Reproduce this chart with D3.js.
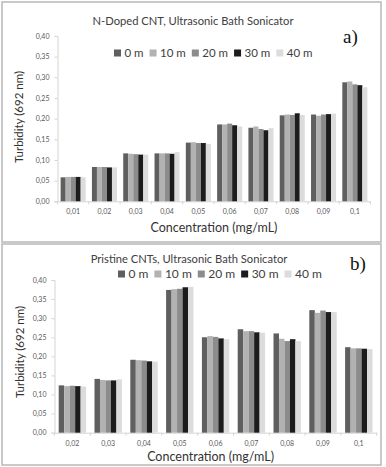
<!DOCTYPE html>
<html>
<head>
<meta charset="utf-8">
<script src="https://cdn.jsdelivr.net/npm/d3@7"></script>
<style>
  body { margin: 0; background: #fff; }
  svg { display: block; font-family: Lato, "Open Sans", sans-serif; }
</style>
</head>
<body>
<script>
// series (sonication time) and their fills
var seriesNames = ["0 m", "10 m", "20 m", "30 m", "40 m"];
var seriesColors = ["#5f5f5f", "#b2b2b2", "#8c8c8c", "#1c1c1c", "#dcdcdc"];

var yTicks = [0, 0.05, 0.10, 0.15, 0.20, 0.25, 0.30, 0.35, 0.40];

// panel a) N-doped CNT
var catsA = ["0,01", "0,02", "0,03", "0,04", "0,05", "0,06", "0,07", "0,08", "0,09", "0,1"];
var valuesA = [
    [0.058, 0.059, 0.059, 0.059, 0.058],
    [0.083, 0.083, 0.083, 0.082, 0.082],
    [0.116, 0.115, 0.114, 0.113, 0.113],
    [0.116, 0.116, 0.116, 0.115, 0.119],
    [0.142, 0.143, 0.141, 0.141, 0.139],
    [0.186, 0.186, 0.188, 0.184, 0.181],
    [0.178, 0.181, 0.175, 0.172, 0.177],
    [0.208, 0.210, 0.209, 0.213, 0.209],
    [0.210, 0.207, 0.210, 0.211, 0.212],
    [0.288, 0.290, 0.283, 0.281, 0.276]
];

// panel b) pristine CNTs
var catsB = ["0,02", "0,03", "0,04", "0,05", "0,06", "0,07", "0,08", "0,09", "0,1"];
var valuesB = [
    [0.124, 0.122, 0.123, 0.122, 0.121],
    [0.141, 0.138, 0.137, 0.137, 0.140],
    [0.191, 0.190, 0.189, 0.187, 0.186],
    [0.374, 0.376, 0.377, 0.381, 0.382],
    [0.250, 0.253, 0.251, 0.247, 0.245],
    [0.271, 0.266, 0.266, 0.263, 0.262],
    [0.260, 0.246, 0.240, 0.245, 0.240],
    [0.321, 0.314, 0.320, 0.316, 0.316],
    [0.224, 0.221, 0.221, 0.220, 0.219]
];

var svg = d3.select("body").append("svg")
    .attr("width", 386)
    .attr("height", 467);

var fmt = function (d) { return d3.format(".2f")(d).replace(".", ","); };

function drawPanel(p) {
    var g = svg.append("g");

    g.append("rect")
        .attr("x", p.box[0]).attr("y", p.box[1])
        .attr("width", p.box[2]).attr("height", p.box[3])
        .attr("fill", "none")
        .attr("stroke", "#b8b8b8")
        .attr("stroke-width", 1.5);

    var x = d3.scaleBand()
        .domain(p.cats)
        .range(p.xRange)
        .paddingInner(p.pad)
        .paddingOuter(p.pad / 2);

    var xs = d3.scaleBand()
        .domain(seriesNames)
        .range([0, x.bandwidth()]);

    var y = d3.scaleLinear()
        .domain([0, 0.40])
        .range(p.yRange);

    // y axis
    var yAxis = g.append("g")
        .attr("transform", "translate(" + p.xRange[0] + ",0)")
        .call(d3.axisLeft(y).tickValues(yTicks).tickFormat(fmt).tickSize(3).tickPadding(5));
    yAxis.select(".domain").attr("stroke", "#d4d4d4");
    yAxis.selectAll(".tick line").attr("stroke", "#d4d4d4");
    yAxis.selectAll(".tick text")
        .attr("fill", "#595959")
        .style("font-size", "7px")
        .style("font-family", "Lato, sans-serif");

    // x axis: ticks between categories
    var xAxis = g.append("g")
        .attr("transform", "translate(0," + p.yRange[0] + ")")
        .call(d3.axisBottom(x).tickSize(0).tickPadding(p.labelPad));
    xAxis.select(".domain").attr("stroke", "#d4d4d4");
    xAxis.selectAll(".tick text")
        .attr("fill", "#595959")
        .style("font-size", "7px")
        .style("font-family", "Lato, sans-serif");

    var step = x.step();
    g.append("g").selectAll("line")
        .data(d3.range(p.cats.length + 1))
        .enter().append("line")
        .attr("x1", function (i) { return p.xRange[0] + i * step; })
        .attr("x2", function (i) { return p.xRange[0] + i * step; })
        .attr("y1", p.yRange[0])
        .attr("y2", p.yRange[0] + 3)
        .attr("stroke", "#d4d4d4");

    // bars
    var groups = g.append("g").selectAll("g")
        .data(p.values)
        .enter().append("g")
        .attr("transform", function (d, i) { return "translate(" + x(p.cats[i]) + ",0)"; });

    groups.selectAll("rect")
        .data(function (d) { return d; })
        .enter().append("rect")
        .attr("x", function (d, j) { return xs(seriesNames[j]); })
        .attr("width", xs.bandwidth())
        .attr("y", function (d) { return y(d); })
        .attr("height", function (d) { return y(0) - y(d); })
        .attr("fill", function (d, j) { return seriesColors[j]; });

    // title
    g.append("text")
        .attr("x", p.titleXY[0]).attr("y", p.titleXY[1])
        .attr("text-anchor", "middle")
        .attr("fill", "#404040")
        .style("font-size", "11.2px")
        .text(p.title);

    // panel letter
    g.append("text")
        .attr("x", p.letterXY[0]).attr("y", p.letterXY[1])
        .attr("fill", "#111")
        .style("font-family", "'Liberation Serif', 'DejaVu Serif', serif")
        .style("font-size", "19px")
        .text(p.letter);

    // legend
    var lx = p.legendXY[0];
    seriesNames.forEach(function (name, j) {
        g.append("rect")
            .attr("x", lx).attr("y", p.legendXY[1] - 3.5)
            .attr("width", 7).attr("height", 7)
            .attr("fill", seriesColors[j]);
        var t = g.append("text")
            .attr("x", lx + 10.5).attr("y", p.legendXY[1])
            .attr("dy", "0.35em")
            .attr("fill", "#404040")
            .style("font-size", p.legendSize + "px")
            .text(name);
        lx += 10.5 + t.node().getComputedTextLength() + p.legendGap;
    });

    // axis titles
    g.append("text")
        .attr("x", (p.xRange[0] + p.xRange[1]) / 2 + p.xTitleShift)
        .attr("y", p.xTitleY)
        .attr("text-anchor", "middle")
        .attr("dy", "0.35em")
        .attr("fill", "#333")
        .style("font-size", "12.5px")
        .text("Concentration (mg/mL)");

    g.append("text")
        .attr("transform", "translate(" + p.yTitleXY[0] + "," + p.yTitleXY[1] + ") rotate(-90)")
        .attr("text-anchor", "middle")
        .attr("dy", "0.35em")
        .attr("fill", "#333")
        .style("font-size", "11.5px")
        .text("Turbidity (692 nm)");
}

drawPanel({
    box: [2, 2, 379, 240],
    cats: catsA,
    values: valuesA,
    xRange: [57.5, 370.5],
    yRange: [201.3, 36],
    pad: 0.2,
    labelPad: 8,
    title: "N-Doped CNT, Ultrasonic Bath Sonicator",
    titleXY: [193, 25],
    letter: "a)",
    letterXY: [343, 43],
    legendXY: [114, 53],
    legendSize: 11.5,
    legendGap: 6,
    xTitleShift: 0,
    xTitleY: 228,
    yTitleXY: [19, 117]
});

drawPanel({
    box: [2, 244, 379, 221],
    cats: catsB,
    values: valuesB,
    xRange: [54.5, 376.7],
    yRange: [432.7, 280],
    pad: 0.235,
    labelPad: 8,
    title: "Pristine CNTs, Ultrasonic Bath Sonicator",
    titleXY: [189, 263],
    letter: "b)",
    letterXY: [350, 270],
    legendXY: [118, 274],
    legendSize: 12,
    legendGap: 6,
    xTitleShift: -5,
    xTitleY: 457,
    yTitleXY: [20, 352]
});
</script>
</body>
</html>
